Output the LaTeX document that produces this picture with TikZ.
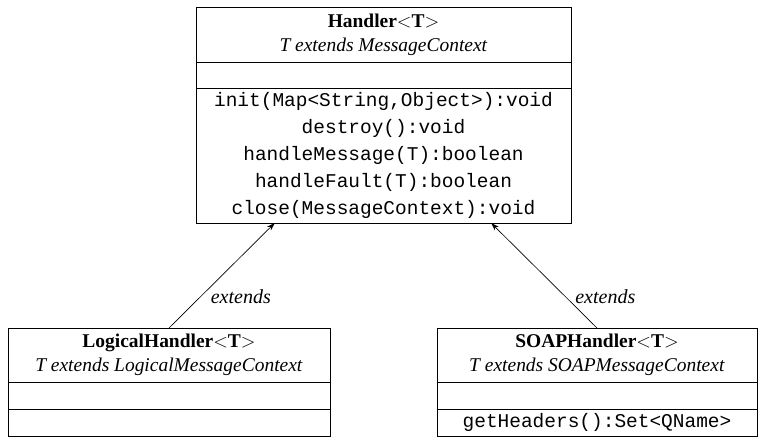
\documentclass[tikz,border=0pt]{standalone}
\usepackage{fontspec}
\setmainfont{Liberation Serif}
\setmonofont{Liberation Mono}
\usetikzlibrary{calc,positioning,arrows.meta}

\begin{document}
\begin{tikzpicture}[x=0.75pt, y=-0.75pt,
	classname/.style = {draw, rectangle, line width=0.7pt, outer sep=0pt, inner sep=0pt, align=center, font=\fontsize{14.6}{18}\selectfont},
	compart/.style = {draw, rectangle, line width=0.7pt, outer sep=0pt, inner sep=0pt, align=center, font=\fontsize{14.6}{20.25}\selectfont\ttfamily},
	ext/.style = {-{Stealth[length=6pt,width=4pt]}, line width=0.5pt},
	lbl/.style = {font=\fontsize{15}{18}\selectfont\itshape, xshift=4pt}]
	\useasboundingbox (0,0) rectangle (767,443);
	% Handler
	\node[classname, minimum width=281.25pt, minimum height=41.25pt, anchor=north west] (handler) at (196,7) {\textbf{Handler$<$T$>$}\\ \textit{T extends MessageContext}};
	\node[compart, minimum width=281.25pt, minimum height=19.5pt] (handlerattr) [below=0pt of handler] {};
	\node[compart, minimum width=281.25pt, minimum height=101.25pt] (handlerops) [below=0pt of handlerattr] {init(Map<String,Object>):void\\ destroy():void\\ handleMessage(T):boolean\\ handleFault(T):boolean\\ close(MessageContext):void};
	% LogicalHandler
	\node[classname, minimum width=241.5pt, minimum height=40.5pt, anchor=north west] (logical) at (8,328) {\textbf{LogicalHandler$<$T$>$}\\ \textit{T extends LogicalMessageContext}};
	\node[compart, minimum width=241.5pt, minimum height=20.25pt] (logicalattr) [below=0pt of logical] {};
	\node[compart, minimum width=241.5pt, minimum height=20.25pt] (logicalops) [below=0pt of logicalattr] {};
	% SOAPHandler
	\node[classname, minimum width=240pt, minimum height=40.5pt, anchor=north west] (soap) at (437,328) {\textbf{SOAPHandler$<$T$>$}\\ \textit{T extends SOAPMessageContext}};
	\node[compart, minimum width=240pt, minimum height=20.25pt] (soapattr) [below=0pt of soap] {};
	\node[compart, minimum width=240pt, minimum height=20.25pt] (soapops) [below=0pt of soapattr] {getHeaders():Set<QName>};
	% inheritance
	\coordinate (lefthook) at ($(handlerops.south west)!0.21!(handlerops.south east)$);
	\coordinate (righthook) at ($(handlerops.south west)!0.787!(handlerops.south east)$);
	\draw[ext] (logical.north) -- node[lbl, pos=0.3, right] {extends} (lefthook);
	\draw[ext] (soap.north) -- node[lbl, pos=0.3, right] {extends} (righthook);
\end{tikzpicture}
\end{document}
